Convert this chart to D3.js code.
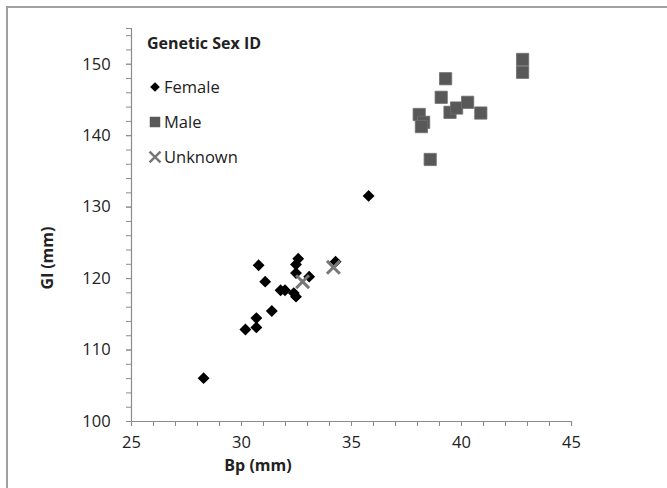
<!DOCTYPE html>
<html>
<head>
<meta charset="utf-8">
<script src="https://cdn.jsdelivr.net/npm/d3@7/dist/d3.min.js"></script>
<style>
  body { margin: 0; background: #fff; }
  svg text { font-family: "Open Sans", "DejaVu Sans", sans-serif; fill: #222; }
</style>
</head>
<body>
<svg id="chart" width="667" height="488"></svg>
<script>
// Bp (mm) vs Gl (mm), grouped by genetic sex
const femaleBp = [28.3, 30.2, 30.7, 30.7, 31.4, 30.8, 31.1, 31.8, 32.0, 32.4, 32.5, 32.6, 32.5, 32.5, 33.1, 34.3, 35.8];
const femaleGl = [106.0, 112.8, 113.1, 114.4, 115.4, 121.8, 119.5, 118.3, 118.3, 117.9, 117.4, 122.7, 121.9, 120.7, 120.2, 122.3, 131.5];
const maleBp = [39.3, 39.1, 39.5, 39.8, 40.3, 40.9, 38.1, 38.3, 38.2, 38.6, 42.8, 42.8];
const maleGl = [147.9, 145.3, 143.2, 143.8, 144.6, 143.1, 142.9, 141.8, 141.2, 136.6, 150.6, 148.8];
const unknownBp = [32.8, 34.2];
const unknownGl = [119.5, 121.5];

const xTicks = [25, 30, 35, 40, 45];
const yTicks = [100, 110, 120, 130, 140, 150];
const legendLabels = ["Female", "Male", "Unknown"];

const svg = d3.select("#chart");
const margin = { left: 131, top: 28, right: 96, bottom: 67 };
const width = 667 - margin.left - margin.right;
const height = 488 - margin.top - margin.bottom;

// 外框
svg.append("rect")
  .attr("x", 7).attr("y", 7)
  .attr("width", 700).attr("height", 500)
  .attr("fill", "none")
  .attr("stroke", "#a0a0a0")
  .attr("stroke-width", 2);

const x = d3.scaleLinear().domain([25, 45]).range([0, width]);
const y = d3.scaleLinear().domain([100, 155]).range([height, 0]);

const g = svg.append("g").attr("transform", `translate(${margin.left},${margin.top})`);

// minor ticks
const xMinor = d3.range(25, 45.01, 1);
const yMinor = d3.range(100, 155, 2);

const xAxis = g.append("g").attr("transform", `translate(0,${height})`)
  .call(d3.axisBottom(x).tickValues(xMinor).tickSize(5).tickFormat(""));
xAxis.append("g")
  .call(d3.axisBottom(x).tickValues(xTicks).tickSize(5).tickFormat(d3.format("d")));

const yAxis = g.append("g")
  .call(d3.axisLeft(y).tickValues(yMinor).tickSize(5).tickFormat(""));
yAxis.append("g")
  .call(d3.axisLeft(y).tickValues(yTicks).tickSize(5).tickFormat(d3.format("d")));

g.selectAll(".domain").attr("stroke", "#8c8c8c").attr("stroke-width", 1.2);
g.selectAll(".tick line").attr("stroke", "#8c8c8c");
g.selectAll(".tick text").attr("font-size", 16.5).attr("fill", "#333")
  .style("font-family", "'Open Sans', sans-serif");
xAxis.selectAll(".tick text").attr("dy", "1.15em");
yAxis.selectAll(".tick text").attr("dx", "-0.75em");
// keep only one domain for each axis
xAxis.select("g .domain").remove();
yAxis.select("g .domain").remove();

// axis titles
svg.append("text")
  .attr("x", 258).attr("y", 471)
  .attr("text-anchor", "middle")
  .attr("font-size", 16).attr("font-weight", "bold")
  .text("Bp (mm)");
svg.append("text")
  .attr("transform", "translate(53,258) rotate(-90)")
  .attr("text-anchor", "middle")
  .attr("font-size", 16).attr("font-weight", "bold")
  .text("Gl (mm)");

const diamond = d3.symbol().type(d3.symbolDiamond2).size(90);
const square = d3.symbol().type(d3.symbolSquare).size(150);
const cross = d3.symbol().type(d3.symbolX).size(110);

const females = femaleBp.map((b, i) => ({ bp: b, gl: femaleGl[i] }));
const males = maleBp.map((b, i) => ({ bp: b, gl: maleGl[i] }));
const unknowns = unknownBp.map((b, i) => ({ bp: b, gl: unknownGl[i] }));

g.selectAll(".male").data(males).join("path")
  .attr("class", "male")
  .attr("d", square)
  .attr("transform", d => `translate(${x(d.bp)},${y(d.gl)})`)
  .attr("fill", "#585858")
  .attr("stroke", "#6e6e6e").attr("stroke-width", 0.8);

g.selectAll(".female").data(females).join("path")
  .attr("class", "female")
  .attr("d", diamond)
  .attr("transform", d => `translate(${x(d.bp)},${y(d.gl)})`)
  .attr("fill", "#000");

g.selectAll(".unknown").data(unknowns).join("path")
  .attr("class", "unknown")
  .attr("d", cross)
  .attr("transform", d => `translate(${x(d.bp)},${y(d.gl)})`)
  .attr("fill", "none")
  .attr("stroke", "#777").attr("stroke-width", 3);

// legend
const legend = svg.append("g").attr("transform", "translate(147,0)");
legend.append("text")
  .attr("x", 0).attr("y", 49)
  .attr("font-size", 16).attr("font-weight", "bold")
  .text("Genetic Sex ID");

const legendY = [87, 122, 157];
const legendSym = [
  { d: d3.symbol().type(d3.symbolDiamond2).size(60)(), fill: "#000", stroke: "none", sw: 0 },
  { d: d3.symbol().type(d3.symbolSquare).size(110)(), fill: "#585858", stroke: "none", sw: 0 },
  { d: d3.symbol().type(d3.symbolX).size(80)(), fill: "none", stroke: "#777", sw: 2.5 }
];
legendLabels.forEach((lab, i) => {
  const row = legend.append("g").attr("transform", `translate(0,${legendY[i]})`);
  row.append("path")
    .attr("d", legendSym[i].d)
    .attr("transform", "translate(8,0)")
    .attr("fill", legendSym[i].fill)
    .attr("stroke", legendSym[i].stroke)
    .attr("stroke-width", legendSym[i].sw);
  row.append("text")
    .attr("x", 17).attr("y", 0).attr("dy", "0.35em")
    .attr("font-size", 16.5)
    .text(lab);
});
</script>
</body>
</html>
